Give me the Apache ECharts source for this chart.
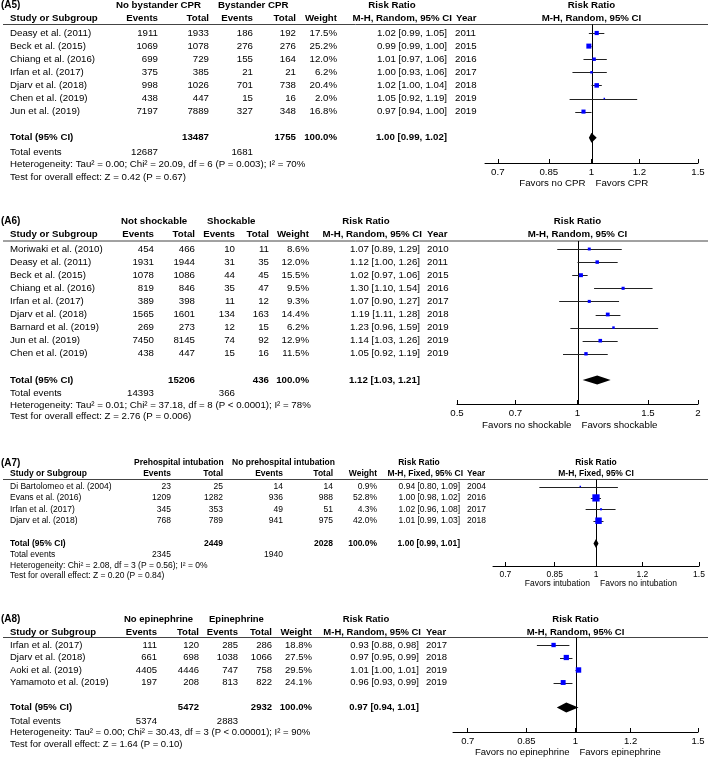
<!DOCTYPE html>
<html><head><meta charset="utf-8">
<script src="https://cdn.jsdelivr.net/npm/echarts@6/dist/echarts.min.js"></script>
<style>html,body{margin:0;padding:0;background:#fff}#c{width:708px;height:758px}</style>
</head><body><div id="c"></div>
<script>
// ================= DATA =================
// (A5) Bystander CPR
const a5Studies = ['Deasy et al. (2011)','Beck et al. (2015)','Chiang et al. (2016)','Irfan et al. (2017)','Djarv et al. (2018)','Chen et al. (2019)','Jun et al. (2019)'];
const a5Events1 = [1911,1069,699,375,998,438,7197];
const a5Total1  = [1933,1078,729,385,1026,447,7889];
const a5Events2 = [186,276,155,21,701,15,327];
const a5Total2  = [192,276,164,21,738,16,348];
const a5Weight  = [17.5,25.2,12.0,6.2,20.4,2.0,16.8];
const a5RR      = [1.02,0.99,1.01,1.00,1.02,1.05,0.97];
const a5Lo      = [0.99,0.99,0.97,0.93,1.00,0.92,0.94];
const a5Hi      = [1.05,1.00,1.06,1.06,1.04,1.19,1.00];
const a5Year    = [2011,2015,2016,2017,2018,2019,2019];
const a5Pooled  = [1.00,0.99,1.02];
const a5Totals  = [13487,1755];
const a5TotalEvents = [12687,1681];
const a5Ticks   = [0.7,0.85,1,1.2,1.5];
const a5Groups  = ['No bystander CPR','Bystander CPR'];
const a5Favors  = ['Favors no CPR','Favors CPR'];
const a5Het  = 'Heterogeneity: Tau² = 0.00; Chi² = 20.09, df = 6 (P = 0.003); I² = 70%';
const a5Test = 'Test for overall effect: Z = 0.42 (P = 0.67)';

// (A6) Shockable rhythm
const a6Studies = ['Moriwaki et al. (2010)','Deasy et al. (2011)','Beck et al. (2015)','Chiang et al. (2016)','Irfan et al. (2017)','Djarv et al. (2018)','Barnard et al. (2019)','Jun et al. (2019)','Chen et al. (2019)'];
const a6Events1 = [454,1931,1078,819,389,1565,269,7450,438];
const a6Total1  = [466,1944,1086,846,398,1601,273,8145,447];
const a6Events2 = [10,31,44,35,11,134,12,74,15];
const a6Total2  = [11,35,45,47,12,163,15,92,16];
const a6Weight  = [8.6,12.0,15.5,9.5,9.3,14.4,6.2,12.9,11.5];
const a6RR      = [1.07,1.12,1.02,1.30,1.07,1.19,1.23,1.14,1.05];
const a6Lo      = [0.89,1.00,0.97,1.10,0.90,1.11,0.96,1.03,0.92];
const a6Hi      = [1.29,1.26,1.06,1.54,1.27,1.28,1.59,1.26,1.19];
const a6Year    = [2010,2011,2015,2016,2017,2018,2019,2019,2019];
const a6Pooled  = [1.12,1.03,1.21];
const a6Totals  = [15206,436];
const a6TotalEvents = [14393,366];
const a6Ticks   = [0.5,0.7,1,1.5,2];
const a6Groups  = ['Not shockable','Shockable'];
const a6Favors  = ['Favors no shockable','Favors shockable'];
const a6Het  = 'Heterogeneity: Tau² = 0.01; Chi² = 37.18, df = 8 (P < 0.0001); I² = 78%';
const a6Test = 'Test for overall effect: Z = 2.76 (P = 0.006)';

// (A7) Prehospital intubation
const a7Studies = ['Di Bartolomeo et al. (2004)','Evans et al. (2016)','Irfan et al. (2017)','Djarv et al. (2018)'];
const a7Events1 = [23,1209,345,768];
const a7Total1  = [25,1282,353,789];
const a7Events2 = [14,936,49,941];
const a7Total2  = [14,988,51,975];
const a7Weight  = [0.9,52.8,4.3,42.0];
const a7RR      = [0.94,1.00,1.02,1.01];
const a7Lo      = [0.80,0.98,0.96,0.99];
const a7Hi      = [1.09,1.02,1.08,1.03];
const a7Year    = [2004,2016,2017,2018];
const a7Pooled  = [1.00,0.99,1.01];
const a7Totals  = [2449,2028];
const a7TotalEvents = [2345,1940];
const a7Ticks   = [0.7,0.85,1,1.2,1.5];
const a7Groups  = ['Prehospital intubation','No prehospital intubation'];
const a7Favors  = ['Favors intubation','Favors no intubation'];
const a7Het  = 'Heterogeneity: Chi² = 2.08, df = 3 (P = 0.56); I² = 0%';
const a7Test = 'Test for overall effect: Z = 0.20 (P = 0.84)';

// (A8) Epinephrine
const a8Studies = ['Irfan et al. (2017)','Djarv et al. (2018)','Aoki et al. (2019)','Yamamoto et al. (2019)'];
const a8Events1 = [111,661,4405,197];
const a8Total1  = [120,698,4446,208];
const a8Events2 = [285,1038,747,813];
const a8Total2  = [286,1066,758,822];
const a8Weight  = [18.8,27.5,29.5,24.1];
const a8RR      = [0.93,0.97,1.01,0.96];
const a8Lo      = [0.88,0.95,1.00,0.93];
const a8Hi      = [0.98,0.99,1.01,0.99];
const a8Year    = [2017,2018,2019,2019];
const a8Pooled  = [0.97,0.94,1.01];
const a8Totals  = [5472,2932];
const a8TotalEvents = [5374,2883];
const a8Ticks   = [0.7,0.85,1,1.2,1.5];
const a8Groups  = ['No epinephrine','Epinephrine'];
const a8Favors  = ['Favors no epinephrine','Favors epinephrine'];
const a8Het  = 'Heterogeneity: Tau² = 0.00; Chi² = 30.43, df = 3 (P < 0.00001); I² = 90%';
const a8Test = 'Test for overall effect: Z = 1.64 (P = 0.10)';

// ================= LAYOUT =================
const FONT = '"Liberation Sans", Arial, Helvetica, sans-serif';
const L5 = {fs:9.7, h1:5.5, h2:18.5, line:24.5, y0:33, dy:13.1, totRow:8, totEv:152, het:164.5, test:177, axis:163, favors:183,
  left:485, right:698, xMax:1.5, dh:5, c:{study:10, ev1:158, tot1:209, ev2:253, tot2:296, wt:337, rr:447, yr:455}, g1:116, g2:218, rrHead:392, mhRight:452, yrHead:456};
const L6 = {fs:9.7, h1:221, h2:234, line:241, y0:249, dy:13.1, totRow:10, totEv:393, het:405.5, test:416.5, axis:404, favors:425,
  left:457, right:698, xMax:2, dh:4.5, c:{study:10, ev1:154, tot1:195, ev2:235, tot2:269, wt:309, rr:420, yr:427}, g1:121, g2:207, rrHead:366, mhRight:422, yrHead:427};
const L7 = {fs:8.5, h1:463, h2:474, line:479.5, y0:486.5, dy:11.4, totRow:5, totEv:555, het:566, test:576, axis:566, favors:584,
  left:493, right:699, xMax:1.5, dh:4.5, c:{study:10, ev1:171, tot1:223, ev2:283, tot2:333, wt:377, rr:460, yr:467}, g1:134, g2:232, rrHead:419, mhRight:463, yrHead:467};
const L8 = {fs:9.5, h1:619, h2:632, line:637.5, y0:645, dy:12.5, totRow:5, totEv:721, het:732.5, test:744, axis:732, favors:752,
  left:453, right:698, xMax:1.5, dh:5, c:{study:10, ev1:157, tot1:199, ev2:238, tot2:272, wt:312, rr:419, yr:426}, g1:124, g2:209, rrHead:366, mhRight:421, yrHead:426};

const panels = [
  {label:'(A5)', method:'M-H, Random, 95% CI', studies:a5Studies, ev1:a5Events1, tot1:a5Total1, ev2:a5Events2, tot2:a5Total2, weight:a5Weight, rr:a5RR, lo:a5Lo, hi:a5Hi, year:a5Year, pooled:a5Pooled, totals:a5Totals, totalEvents:a5TotalEvents, ticks:a5Ticks, groups:a5Groups, favors:a5Favors, het:a5Het, test:a5Test, L:L5},
  {label:'(A6)', method:'M-H, Random, 95% CI', studies:a6Studies, ev1:a6Events1, tot1:a6Total1, ev2:a6Events2, tot2:a6Total2, weight:a6Weight, rr:a6RR, lo:a6Lo, hi:a6Hi, year:a6Year, pooled:a6Pooled, totals:a6Totals, totalEvents:a6TotalEvents, ticks:a6Ticks, groups:a6Groups, favors:a6Favors, het:a6Het, test:a6Test, L:L6},
  {label:'(A7)', method:'M-H, Fixed, 95% CI', studies:a7Studies, ev1:a7Events1, tot1:a7Total1, ev2:a7Events2, tot2:a7Total2, weight:a7Weight, rr:a7RR, lo:a7Lo, hi:a7Hi, year:a7Year, pooled:a7Pooled, totals:a7Totals, totalEvents:a7TotalEvents, ticks:a7Ticks, groups:a7Groups, favors:a7Favors, het:a7Het, test:a7Test, L:L7},
  {label:'(A8)', method:'M-H, Random, 95% CI', studies:a8Studies, ev1:a8Events1, tot1:a8Total1, ev2:a8Events2, tot2:a8Total2, weight:a8Weight, rr:a8RR, lo:a8Lo, hi:a8Hi, year:a8Year, pooled:a8Pooled, totals:a8Totals, totalEvents:a8TotalEvents, ticks:a8Ticks, groups:a8Groups, favors:a8Favors, het:a8Het, test:a8Test, L:L8}
];

function T(x, y, text, align, bold, fs) {
  return {type:'text', silent:true, x:x, y:y,
    style:{text:String(text), fill:'#000', fontSize:fs, fontWeight:bold?'bold':'normal', fontFamily:FONT,
      textAlign:align, textVerticalAlign:'middle'}};
}
function fmtCI(r, l, h) { return r.toFixed(2) + ' [' + l.toFixed(2) + ', ' + h.toFixed(2) + ']'; }

const opt = {animation:false, backgroundColor:'#fff', grid:[], xAxis:[], yAxis:[], series:[], graphic:[]};
const G = [];

panels.forEach((d, k) => {
  const L = d.L, fs = L.fs, c = L.c;
  const cx = (L.left + L.right) / 2;
  const yMin = -(L.y0 - L.line) / L.dy;
  const yMax = yMin + (L.axis - L.line) / L.dy;
  const rowY = i => L.y0 + i * L.dy;

  opt.grid.push({left:L.left, top:L.line, width:L.right - L.left, height:L.axis - L.line, containLabel:false});
  opt.xAxis.push({gridIndex:k, type:'log', logBase:10, min:1 / L.xMax, max:L.xMax, position:'bottom',
    axisLine:{show:true, onZero:false, lineStyle:{color:'#000', width:1}},
    axisTick:{show:true, inside:true, length:4, customValues:d.ticks, lineStyle:{color:'#000', width:1}},
    axisLabel:{show:true, customValues:d.ticks, color:'#000', fontSize:fs, fontFamily:FONT, margin:4},
    splitLine:{show:false}, minorTick:{show:false}, minorSplitLine:{show:false}});
  opt.yAxis.push({gridIndex:k, type:'value', inverse:true, min:yMin, max:yMax, show:false});

  // line of no effect
  opt.series.push({type:'custom', xAxisIndex:k, yAxisIndex:k, silent:true, clip:false, data:[[1, 0]], encode:{x:0, y:1},
    renderItem:(params, api) => {
      const p = api.coord([api.value(0), 0]);
      const cs = params.coordSys;
      const x = Math.round(p[0]) + 0.5;
      return {type:'line', shape:{x1:x, y1:cs.y, x2:x, y2:cs.y + cs.height}, style:{stroke:'#000', lineWidth:1}};
    }});

  // study estimates
  const rows = d.rr.map((v, i) => [v, d.lo[i], d.hi[i], d.weight[i], i]);
  opt.series.push({type:'custom', xAxisIndex:k, yAxisIndex:k, silent:true, clip:false, data:rows, encode:{x:[0, 1, 2], y:4},
    renderItem:(params, api) => {
      const r = api.value(4);
      const pR = api.coord([api.value(0), r]);
      const pL = api.coord([api.value(1), r]);
      const pH = api.coord([api.value(2), r]);
      const s = Math.max(1.5, Math.sqrt(api.value(3)));
      const y = Math.round(pR[1]) + 0.5;
      return {type:'group', children:[
        {type:'line', shape:{x1:pL[0], y1:y, x2:pH[0], y2:y}, style:{stroke:'#222', lineWidth:1}},
        {type:'rect', shape:{x:pR[0] - s / 2, y:pR[1] - s / 2, width:s, height:s}, style:{fill:'#0000ff'}}
      ]};
    }});

  // pooled diamond
  opt.series.push({type:'custom', xAxisIndex:k, yAxisIndex:k, silent:true, clip:false,
    data:[[d.pooled[0], d.pooled[1], d.pooled[2], L.totRow]], encode:{x:[0, 1, 2], y:3},
    renderItem:(params, api) => {
      const r = api.value(3);
      const pR = api.coord([api.value(0), r]);
      const pL = api.coord([api.value(1), r]);
      const pH = api.coord([api.value(2), r]);
      const y = pR[1];
      return {type:'polygon', shape:{points:[[pL[0], y], [pR[0], y - L.dh], [pH[0], y], [pR[0], y + L.dh]]}, style:{fill:'#000'}};
    }});

  // header
  G.push(T(1, L.h1, d.label, 'left', true, 10));
  G.push(T(L.g1, L.h1, d.groups[0], 'left', true, fs));
  G.push(T(L.g2, L.h1, d.groups[1], 'left', true, fs));
  G.push(T(L.rrHead, L.h1, 'Risk Ratio', 'center', true, fs));
  G.push(T(cx, L.h1, 'Risk Ratio', 'center', true, fs));
  G.push(T(c.study, L.h2, 'Study or Subgroup', 'left', true, fs));
  G.push(T(c.ev1, L.h2, 'Events', 'right', true, fs));
  G.push(T(c.tot1, L.h2, 'Total', 'right', true, fs));
  G.push(T(c.ev2, L.h2, 'Events', 'right', true, fs));
  G.push(T(c.tot2, L.h2, 'Total', 'right', true, fs));
  G.push(T(c.wt, L.h2, 'Weight', 'right', true, fs));
  G.push(T(L.mhRight, L.h2, d.method, 'right', true, fs));
  G.push(T(L.yrHead, L.h2, 'Year', 'left', true, fs));
  G.push(T(cx, L.h2, d.method, 'center', true, fs));
  G.push({type:'line', silent:true, shape:{x1:3, y1:L.line, x2:708, y2:L.line}, style:{stroke:'#444', lineWidth:1}});

  // study rows
  d.studies.forEach((s, i) => {
    const y = rowY(i);
    G.push(T(c.study, y, s, 'left', false, fs));
    G.push(T(c.ev1, y, d.ev1[i], 'right', false, fs));
    G.push(T(c.tot1, y, d.tot1[i], 'right', false, fs));
    G.push(T(c.ev2, y, d.ev2[i], 'right', false, fs));
    G.push(T(c.tot2, y, d.tot2[i], 'right', false, fs));
    G.push(T(c.wt, y, d.weight[i].toFixed(1) + '%', 'right', false, fs));
    G.push(T(c.rr, y, fmtCI(d.rr[i], d.lo[i], d.hi[i]), 'right', false, fs));
    G.push(T(c.yr, y, d.year[i], 'left', false, fs));
  });

  // total row
  const ty = rowY(L.totRow);
  const wSum = d.weight.reduce((a, b) => a + b, 0);
  G.push(T(c.study, ty, 'Total (95% CI)', 'left', true, fs));
  G.push(T(c.tot1, ty, d.totals[0], 'right', true, fs));
  G.push(T(c.tot2, ty, d.totals[1], 'right', true, fs));
  G.push(T(c.wt, ty, Math.round(wSum).toFixed(1) + '%', 'right', true, fs));
  G.push(T(c.rr, ty, fmtCI(d.pooled[0], d.pooled[1], d.pooled[2]), 'right', true, fs));

  G.push(T(c.study, L.totEv, 'Total events', 'left', false, fs));
  G.push(T(c.ev1, L.totEv, d.totalEvents[0], 'right', false, fs));
  G.push(T(c.ev2, L.totEv, d.totalEvents[1], 'right', false, fs));
  G.push(T(c.study, L.het, d.het, 'left', false, fs));
  G.push(T(c.study, L.test, d.test, 'left', false, fs));

  G.push(T(cx - 6, L.favors, d.favors[0], 'right', false, fs));
  G.push(T(cx + 4, L.favors, d.favors[1], 'left', false, fs));
});

opt.graphic = {elements:G};
const chart = echarts.init(document.getElementById('c'), null, {renderer:'canvas'});
chart.setOption(opt);
</script>
</body></html>
